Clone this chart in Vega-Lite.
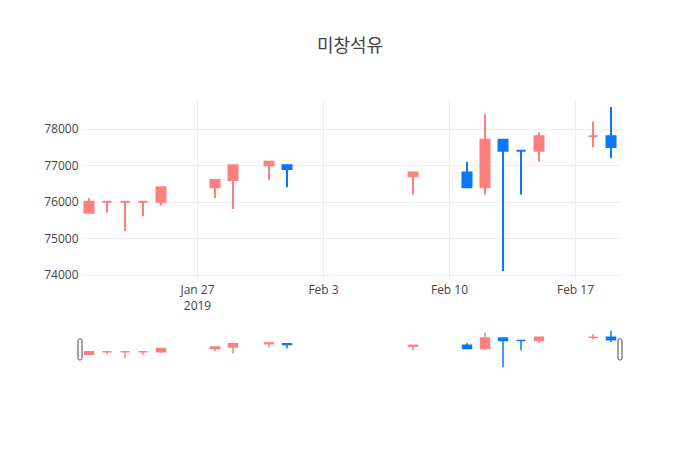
{
  "$schema": "https://vega.github.io/schema/vega-lite/v6.json",
  "padding": {"left": 40, "top": 38, "right": 20, "bottom": 20},
  "background": "white",
  "datasets": {
    "ohlc": [
      {"date": "2019-01-21", "open": 75700, "high": 76100, "low": 75700, "close": 76000, "dir": "up"},
      {"date": "2019-01-22", "open": 76000, "high": 76000, "low": 75700, "close": 76000, "dir": "up"},
      {"date": "2019-01-23", "open": 76000, "high": 76000, "low": 75200, "close": 76000, "dir": "up"},
      {"date": "2019-01-24", "open": 76000, "high": 76000, "low": 75600, "close": 76000, "dir": "up"},
      {"date": "2019-01-25", "open": 76000, "high": 76400, "low": 75900, "close": 76400, "dir": "up"},
      {"date": "2019-01-28", "open": 76400, "high": 76600, "low": 76100, "close": 76600, "dir": "up"},
      {"date": "2019-01-29", "open": 76600, "high": 77000, "low": 75800, "close": 77000, "dir": "up"},
      {"date": "2019-01-31", "open": 77000, "high": 77100, "low": 76600, "close": 77100, "dir": "up"},
      {"date": "2019-02-01", "open": 77000, "high": 77000, "low": 76400, "close": 76900, "dir": "down"},
      {"date": "2019-02-08", "open": 76700, "high": 76800, "low": 76200, "close": 76800, "dir": "up"},
      {"date": "2019-02-11", "open": 76800, "high": 77100, "low": 76400, "close": 76400, "dir": "down"},
      {"date": "2019-02-12", "open": 76400, "high": 78400, "low": 76200, "close": 77700, "dir": "up"},
      {"date": "2019-02-13", "open": 77700, "high": 77700, "low": 74100, "close": 77400, "dir": "down"},
      {"date": "2019-02-14", "open": 77400, "high": 77400, "low": 76200, "close": 77400, "dir": "down"},
      {"date": "2019-02-15", "open": 77400, "high": 77900, "low": 77100, "close": 77800, "dir": "up"},
      {"date": "2019-02-18", "open": 77800, "high": 78200, "low": 77500, "close": 77800, "dir": "up"},
      {"date": "2019-02-19", "open": 77800, "high": 78600, "low": 77200, "close": 77500, "dir": "down"}
    ]
  },
  "spacing": 50,
  "bounds": "flush",
  "vconcat": [
    {
      "width": 540,
      "height": 180,
      "title": {
        "text": "미창석유",
        "fontSize": 18,
        "font": "Open Sans, Noto Sans CJK KR",
        "fontWeight": "normal",
        "color": "#444",
        "anchor": "middle",
        "frame": "group",
        "offset": 43
      },
      "data": {"name": "ohlc"},
      "encoding": {
        "x": {
          "field": "date",
          "type": "temporal",
          "title": null,
          "scale": {
            "type": "utc",
            "padding": 0,
            "domain": [
              {"year": 2019, "month": "jan", "date": 20, "hours": 12, "utc": true},
              {"year": 2019, "month": "feb", "date": 19, "hours": 12, "utc": true}
            ]
          },
          "axis": {
            "values": [
              {"year": 2019, "month": "jan", "date": 27, "utc": true},
              {"year": 2019, "month": "feb", "date": 3, "utc": true},
              {"year": 2019, "month": "feb", "date": 10, "utc": true},
              {"year": 2019, "month": "feb", "date": 17, "utc": true}
            ],
            "labelExpr": "datum.index == 0 ? [utcFormat(datum.value, '%b %-d'), utcFormat(datum.value, '%Y')] : utcFormat(datum.value, '%b %-d')",
            "labelPadding": 5,
            "labelLineHeight": 16
          }
        },
        "color": {
          "field": "dir",
          "type": "nominal",
          "scale": {"domain": ["up", "down"], "range": ["#ff7f7f", "#0a78f5"]},
          "legend": null
        },
        "stroke": {
          "field": "dir",
          "type": "nominal",
          "scale": {"domain": ["up", "down"], "range": ["#ff7f7f", "#0a78f5"]},
          "legend": null
        }
      },
      "layer": [
        {
          "mark": {"type": "rule", "strokeWidth": 2},
          "encoding": {
            "y": {
              "field": "low",
              "type": "quantitative",
              "title": null,
              "scale": {"domain": [73880, 78820], "zero": false, "nice": false, "padding": 0},
              "axis": {
                "values": [74000, 75000, 76000, 77000, 78000],
                "format": "d",
                "labelPadding": 2,
                "minExtent": 40,
                "maxExtent": 40
              }
            },
            "y2": {"field": "high"}
          }
        },
        {
          "mark": {"type": "bar", "width": 9, "strokeWidth": 2, "opacity": 1},
          "encoding": {
            "y": {"field": "open", "type": "quantitative"},
            "y2": {"field": "close"}
          }
        }
      ]
    },
    {
      "width": 540,
      "height": 40,
      "layer": [
        {
          "data": {"name": "ohlc"},
          "encoding": {
            "x": {
              "field": "date",
              "type": "temporal",
              "axis": null,
              "scale": {
                "type": "utc",
                "padding": 0,
                "domain": [
                  {"year": 2019, "month": "jan", "date": 20, "hours": 12, "utc": true},
                  {"year": 2019, "month": "feb", "date": 19, "hours": 12, "utc": true}
                ]
              }
            },
            "color": {
              "field": "dir",
              "type": "nominal",
              "scale": {"domain": ["up", "down"], "range": ["#ff7f7f", "#0a78f5"]},
              "legend": null
            },
            "stroke": {
              "field": "dir",
              "type": "nominal",
              "scale": {"domain": ["up", "down"], "range": ["#ff7f7f", "#0a78f5"]},
              "legend": null
            }
          },
          "layer": [
            {
              "mark": {"type": "rule", "strokeWidth": 1.5},
              "encoding": {
                "y": {
                  "field": "low",
                  "type": "quantitative",
                  "axis": null,
                  "scale": {"domain": [73880, 78820], "zero": false, "nice": false, "padding": 0}
                },
                "y2": {"field": "high"}
              }
            },
            {
              "mark": {"type": "bar", "width": 9, "strokeWidth": 1.5},
              "encoding": {
                "y": {"field": "open", "type": "quantitative"},
                "y2": {"field": "close"}
              }
            }
          ]
        },
        {
          "data": {"values": [{}]},
          "mark": {"type": "bar", "width": 4, "fill": "white", "stroke": "#444", "strokeWidth": 1, "cornerRadius": 1.5},
          "encoding": {
            "x": {"datum": {"year": 2019, "month": "jan", "date": 20, "hours": 12, "utc": true}, "type": "temporal"},
            "y": {"datum": 75000, "type": "quantitative"},
            "y2": {"datum": 77600}
          }
        },
        {
          "data": {"values": [{}]},
          "mark": {"type": "bar", "width": 4, "fill": "white", "stroke": "#444", "strokeWidth": 1, "cornerRadius": 1.5},
          "encoding": {
            "x": {"datum": {"year": 2019, "month": "feb", "date": 19, "hours": 12, "utc": true}, "type": "temporal"},
            "y": {"datum": 75000, "type": "quantitative"},
            "y2": {"datum": 77600}
          }
        }
      ]
    }
  ],
  "config": {
    "font": "Open Sans, Noto Sans CJK KR",
    "view": {"stroke": null},
    "axis": {
      "labelColor": "#444",
      "labelFontSize": 12,
      "labelFont": "Open Sans",
      "gridColor": "#eeeeee",
      "gridWidth": 1,
      "domain": false,
      "ticks": false
    }
  }
}
